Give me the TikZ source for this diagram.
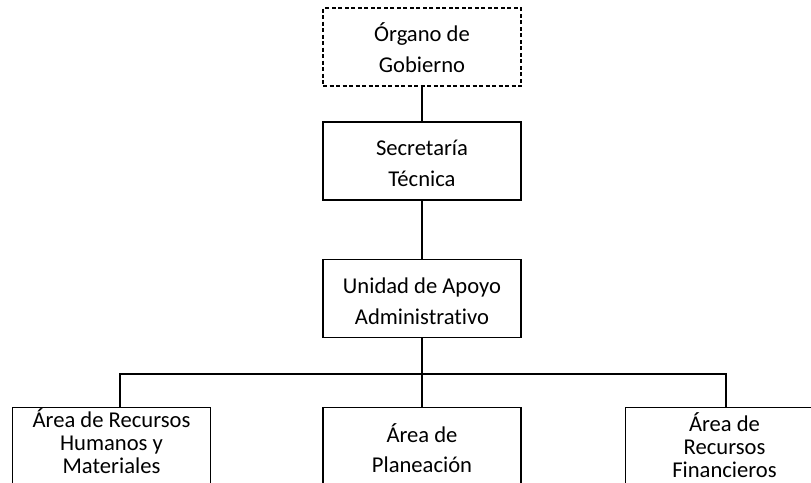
\documentclass[tikz,border=0pt]{standalone}
\usepackage{fontspec}
\setmainfont{Carlito}[Ligatures=NoCommon]
\newcommand{\topline}{\rule{0pt}{21pt}}
\begin{document}
\begin{tikzpicture}[x=1pt, y=-1pt, line join=miter, font=\fontsize{22.6}{31}\selectfont]
			\tikzset{unit/.style={draw, line width=1.3pt, minimum width=198pt, minimum height=78pt, align=center, inner sep=0pt},
				gov/.style={unit, dash pattern=on 4pt off 2.5pt, line width=1.1pt},
				area/.style={unit, anchor=north, minimum height=0pt, text depth=80pt, font=\fontsize{22.6}{23}\selectfont},
				link/.style={line width=1.9pt}}
			\useasboundingbox (0,0) rectangle (811,482);
			\node[gov] (og) at (422,47) {\topline Órgano de\\Gobierno};
			\node[unit] (st) at (422,161) {\topline Secretaría\\Técnica};
			\node[unit] (uaa) at (422,298.5) {\topline Unidad de Apoyo\\Administrativo};
			\node[area, inner ysep=1pt] (arh) at (111.5,407) {Área de Recursos\\Humanos y\\Materiales};
			\node[area, inner ysep=16pt, font=\fontsize{22.6}{30}\selectfont] (ap) at (422,407) {Área de\\Planeación};
			\node[area, inner ysep=5pt] (arf) at (724.5,407) {Área de\\Recursos\\Financieros};
			\coordinate (bus) at (422,374);
			\coordinate (busl) at (120,374);
			\coordinate (busr) at (726,374);
			\draw[link] (og) -- (st);
			\draw[link] (st) -- (uaa);
			\draw[link] (uaa) -- (bus);
			\draw[link] (busl |- arh.north) -- (busl) -- (busr) -- (busr |- arf.north);
			\draw[link] (bus) -- (ap);
		\end{tikzpicture}
\end{document}
